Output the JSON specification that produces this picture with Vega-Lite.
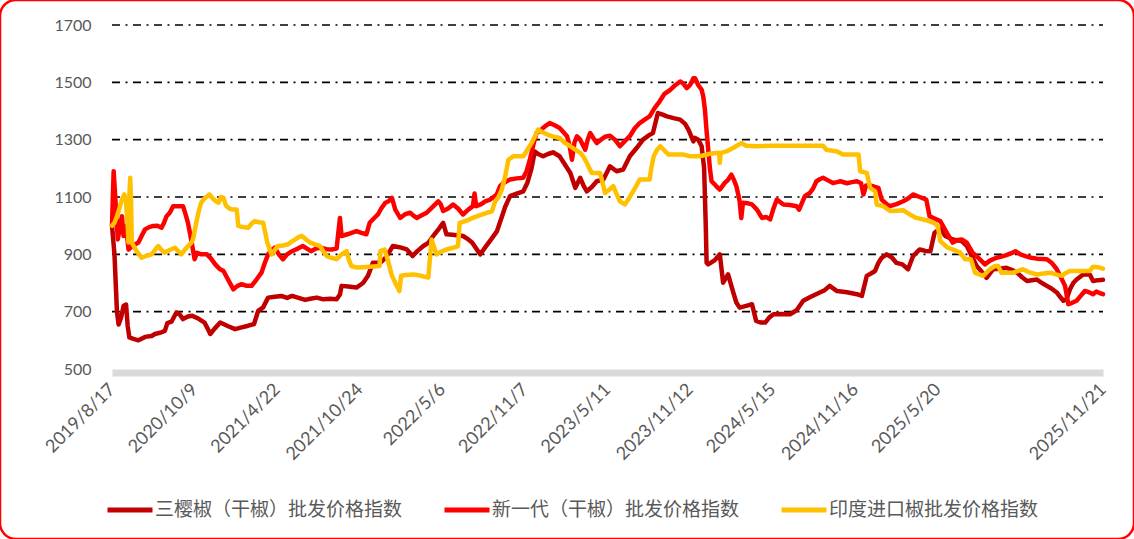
{
  "$schema": "https://vega.github.io/schema/vega-lite/v6.json",
  "width": 1134,
  "height": 539,
  "padding": 0,
  "autosize": {"type": "none"},
  "background": "#ffffff",
  "config": {
    "view": {"stroke": "#FF0000", "strokeWidth": 2.5, "cornerRadius": 16, "fill": "#ffffff"},
    "font": "Lato"
  },
  "datasets": {
    "grid": [{"g": 700}, {"g": 900}, {"g": 1100}, {"g": 1300}, {"g": 1500}, {"g": 1700}],
    "a": [{"i":0,"v":1000},{"i":3,"v":900},{"i":6,"v":700},{"i":8,"v":655},{"i":11,"v":680},{"i":14,"v":720},{"i":17,"v":725},{"i":19,"v":650},{"i":21,"v":610},{"i":26,"v":605},{"i":32,"v":600},{"i":40,"v":612},{"i":48,"v":615},{"i":52,"v":622},{"i":60,"v":628},{"i":64,"v":633},{"i":67,"v":660},{"i":72,"v":665},{"i":78,"v":697},{"i":82,"v":690},{"i":86,"v":674},{"i":92,"v":683},{"i":97,"v":686},{"i":105,"v":675},{"i":112,"v":662},{"i":116,"v":640},{"i":119,"v":622},{"i":124,"v":640},{"i":131,"v":662},{"i":140,"v":650},{"i":149,"v":639},{"i":157,"v":645},{"i":165,"v":651},{"i":172,"v":657},{"i":177,"v":703},{"i":183,"v":715},{"i":189,"v":749},{"i":197,"v":752},{"i":205,"v":755},{"i":212,"v":748},{"i":218,"v":755},{"i":226,"v":748},{"i":234,"v":741},{"i":240,"v":745},{"i":248,"v":749},{"i":256,"v":743},{"i":264,"v":745},{"i":272,"v":743},{"i":276,"v":760},{"i":278,"v":790},{"i":286,"v":788},{"i":296,"v":784},{"i":304,"v":800},{"i":310,"v":825},{"i":316,"v":871},{"i":325,"v":871},{"i":332,"v":890},{"i":340,"v":929},{"i":348,"v":925},{"i":357,"v":917},{"i":364,"v":894},{"i":370,"v":912},{"i":377,"v":929},{"i":383,"v":940},{"i":389,"v":964},{"i":396,"v":990},{"i":401,"v":1010},{"i":405,"v":970},{"i":412,"v":968},{"i":420,"v":966},{"i":425,"v":964},{"i":430,"v":955},{"i":436,"v":941},{"i":441,"v":920},{"i":446,"v":900},{"i":452,"v":925},{"i":458,"v":948},{"i":466,"v":980},{"i":472,"v":1030},{"i":476,"v":1065},{"i":482,"v":1103},{"i":490,"v":1112},{"i":498,"v":1120},{"i":503,"v":1150},{"i":508,"v":1200},{"i":512,"v":1259},{"i":516,"v":1250},{"i":522,"v":1242},{"i":528,"v":1250},{"i":534,"v":1256},{"i":542,"v":1242},{"i":548,"v":1215},{"i":555,"v":1184},{"i":561,"v":1132},{"i":564,"v":1150},{"i":567,"v":1167},{"i":571,"v":1140},{"i":575,"v":1120},{"i":581,"v":1135},{"i":587,"v":1155},{"i":595,"v":1161},{"i":603,"v":1207},{"i":611,"v":1190},{"i":619,"v":1196},{"i":627,"v":1242},{"i":635,"v":1270},{"i":643,"v":1300},{"i":650,"v":1315},{"i":655,"v":1323},{"i":661,"v":1393},{"i":666,"v":1388},{"i":672,"v":1381},{"i":680,"v":1375},{"i":688,"v":1370},{"i":694,"v":1355},{"i":698,"v":1335},{"i":704,"v":1294},{"i":706,"v":1306},{"i":710,"v":1300},{"i":714,"v":1277},{"i":717,"v":1200},{"i":719,"v":1000},{"i":720,"v":871},{"i":722,"v":865},{"i":730,"v":880},{"i":736,"v":900},{"i":740,"v":801},{"i":746,"v":830},{"i":750,"v":790},{"i":753,"v":760},{"i":756,"v":732},{"i":760,"v":714},{"i":768,"v":720},{"i":775,"v":726},{"i":780,"v":668},{"i":786,"v":662},{"i":791,"v":662},{"i":796,"v":680},{"i":801,"v":691},{"i":810,"v":692},{"i":821,"v":691},{"i":829,"v":705},{"i":837,"v":738},{"i":845,"v":750},{"i":857,"v":767},{"i":863,"v":775},{"i":869,"v":790},{"i":878,"v":772},{"i":890,"v":768},{"i":902,"v":761},{"i":908,"v":755},{"i":914,"v":825},{"i":920,"v":835},{"i":924,"v":842},{"i":928,"v":870},{"i":932,"v":888},{"i":938,"v":900},{"i":944,"v":890},{"i":950,"v":870},{"i":957,"v":865},{"i":964,"v":848},{"i":970,"v":894},{"i":978,"v":917},{"i":985,"v":912},{"i":991,"v":911},{"i":996,"v":975},{"i":1003,"v":990},{"i":1009,"v":964},{"i":1018,"v":952},{"i":1029,"v":946},{"i":1035,"v":930},{"i":1039,"v":906},{"i":1047,"v":859},{"i":1053,"v":840},{"i":1059,"v":818},{"i":1067,"v":848},{"i":1075,"v":850},{"i":1083,"v":853},{"i":1090,"v":845},{"i":1096,"v":836},{"i":1102,"v":820},{"i":1108,"v":807},{"i":1120,"v":812},{"i":1126,"v":800},{"i":1132,"v":790},{"i":1138,"v":780},{"i":1144,"v":767},{"i":1148,"v":752},{"i":1152,"v":738},{"i":1156,"v":745},{"i":1160,"v":778},{"i":1164,"v":800},{"i":1168,"v":812},{"i":1176,"v":830},{"i":1184,"v":830},{"i":1188,"v":807},{"i":1194,"v":810},{"i":1200,"v":811}],
    "b": [{"i":0,"v":1000},{"i":2,"v":1190},{"i":5,"v":1050},{"i":7,"v":952},{"i":10,"v":1000},{"i":12,"v":1033},{"i":14,"v":964},{"i":17,"v":1000},{"i":20,"v":917},{"i":25,"v":930},{"i":32,"v":941},{"i":36,"v":965},{"i":40,"v":987},{"i":45,"v":995},{"i":50,"v":999},{"i":55,"v":1000},{"i":60,"v":993},{"i":63,"v":1010},{"i":66,"v":1033},{"i":70,"v":1045},{"i":74,"v":1068},{"i":80,"v":1068},{"i":86,"v":1068},{"i":89,"v":1040},{"i":92,"v":1010},{"i":96,"v":950},{"i":100,"v":883},{"i":103,"v":905},{"i":108,"v":900},{"i":115,"v":900},{"i":120,"v":885},{"i":125,"v":865},{"i":130,"v":850},{"i":135,"v":842},{"i":140,"v":815},{"i":147,"v":778},{"i":152,"v":790},{"i":157,"v":796},{"i":163,"v":790},{"i":169,"v":790},{"i":175,"v":812},{"i":181,"v":836},{"i":185,"v":870},{"i":189,"v":900},{"i":193,"v":915},{"i":197,"v":923},{"i":202,"v":900},{"i":207,"v":883},{"i":212,"v":900},{"i":218,"v":911},{"i":225,"v":920},{"i":231,"v":929},{"i":236,"v":920},{"i":241,"v":911},{"i":247,"v":920},{"i":252,"v":923},{"i":260,"v":918},{"i":266,"v":917},{"i":272,"v":920},{"i":276,"v":1027},{"i":278,"v":964},{"i":285,"v":970},{"i":290,"v":975},{"i":296,"v":981},{"i":302,"v":975},{"i":308,"v":970},{"i":312,"v":1010},{"i":317,"v":1025},{"i":322,"v":1039},{"i":326,"v":1060},{"i":331,"v":1080},{"i":335,"v":1085},{"i":339,"v":1097},{"i":343,"v":1056},{"i":349,"v":1027},{"i":355,"v":1040},{"i":361,"v":1045},{"i":365,"v":1035},{"i":369,"v":1027},{"i":375,"v":1036},{"i":381,"v":1045},{"i":388,"v":1065},{"i":395,"v":1085},{"i":398,"v":1075},{"i":401,"v":1051},{"i":407,"v":1060},{"i":413,"v":1074},{"i":419,"v":1060},{"i":425,"v":1039},{"i":431,"v":1055},{"i":437,"v":1068},{"i":439,"v":1112},{"i":441,"v":1068},{"i":447,"v":1075},{"i":452,"v":1085},{"i":458,"v":1091},{"i":466,"v":1109},{"i":470,"v":1138},{"i":474,"v":1149},{"i":482,"v":1161},{"i":490,"v":1165},{"i":498,"v":1167},{"i":502,"v":1190},{"i":506,"v":1230},{"i":510,"v":1280},{"i":514,"v":1323},{"i":518,"v":1330},{"i":522,"v":1341},{"i":526,"v":1350},{"i":530,"v":1358},{"i":536,"v":1350},{"i":542,"v":1341},{"i":547,"v":1325},{"i":551,"v":1312},{"i":554,"v":1280},{"i":557,"v":1230},{"i":560,"v":1290},{"i":563,"v":1312},{"i":567,"v":1300},{"i":573,"v":1265},{"i":576,"v":1300},{"i":579,"v":1323},{"i":583,"v":1305},{"i":587,"v":1288},{"i":592,"v":1300},{"i":597,"v":1310},{"i":603,"v":1314},{"i":609,"v":1300},{"i":615,"v":1277},{"i":621,"v":1295},{"i":627,"v":1312},{"i":633,"v":1340},{"i":639,"v":1358},{"i":645,"v":1370},{"i":651,"v":1381},{"i":657,"v":1410},{"i":663,"v":1433},{"i":669,"v":1460},{"i":676,"v":1474},{"i":682,"v":1490},{"i":688,"v":1503},{"i":692,"v":1495},{"i":696,"v":1480},{"i":700,"v":1491},{"i":704,"v":1514},{"i":706,"v":1514},{"i":710,"v":1490},{"i":714,"v":1474},{"i":716,"v":1450},{"i":718,"v":1404},{"i":720,"v":1330},{"i":722,"v":1265},{"i":724,"v":1200},{"i":726,"v":1155},{"i":731,"v":1140},{"i":736,"v":1126},{"i":742,"v":1149},{"i":746,"v":1160},{"i":750,"v":1178},{"i":753,"v":1160},{"i":756,"v":1138},{"i":759,"v":1100},{"i":760,"v":1085},{"i":762,"v":1027},{"i":764,"v":1080},{"i":770,"v":1078},{"i":775,"v":1074},{"i":781,"v":1056},{"i":787,"v":1027},{"i":792,"v":1030},{"i":797,"v":1022},{"i":801,"v":1060},{"i":805,"v":1091},{"i":813,"v":1074},{"i":821,"v":1072},{"i":829,"v":1068},{"i":832,"v":1056},{"i":839,"v":1103},{"i":845,"v":1114},{"i":849,"v":1130},{"i":853,"v":1155},{"i":857,"v":1162},{"i":861,"v":1167},{"i":867,"v":1158},{"i":873,"v":1149},{"i":878,"v":1152},{"i":882,"v":1155},{"i":890,"v":1148},{"i":896,"v":1152},{"i":902,"v":1155},{"i":907,"v":1148},{"i":910,"v":1109},{"i":913,"v":1140},{"i":918,"v":1140},{"i":924,"v":1135},{"i":928,"v":1132},{"i":932,"v":1091},{"i":938,"v":1075},{"i":942,"v":1068},{"i":950,"v":1075},{"i":958,"v":1085},{"i":964,"v":1095},{"i":970,"v":1109},{"i":978,"v":1100},{"i":986,"v":1091},{"i":990,"v":1033},{"i":996,"v":1025},{"i":1003,"v":1016},{"i":1008,"v":990},{"i":1012,"v":970},{"i":1018,"v":941},{"i":1024,"v":950},{"i":1029,"v":952},{"i":1035,"v":941},{"i":1042,"v":906},{"i":1050,"v":885},{"i":1057,"v":865},{"i":1063,"v":878},{"i":1071,"v":888},{"i":1077,"v":892},{"i":1083,"v":897},{"i":1090,"v":905},{"i":1094,"v":911},{"i":1100,"v":900},{"i":1106,"v":894},{"i":1113,"v":888},{"i":1120,"v":885},{"i":1126,"v":884},{"i":1132,"v":883},{"i":1138,"v":870},{"i":1144,"v":848},{"i":1149,"v":820},{"i":1154,"v":790},{"i":1158,"v":726},{"i":1162,"v":730},{"i":1168,"v":738},{"i":1173,"v":755},{"i":1178,"v":772},{"i":1183,"v":768},{"i":1188,"v":761},{"i":1192,"v":770},{"i":1196,"v":765},{"i":1200,"v":761}],
    "c": [{"i":0,"v":1000},{"i":3,"v":1010},{"i":6,"v":1033},{"i":9,"v":1060},{"i":12,"v":1091},{"i":15,"v":1109},{"i":17,"v":1080},{"i":19,"v":1000},{"i":20,"v":941},{"i":21,"v":1100},{"i":22,"v":1167},{"i":23,"v":1100},{"i":24,"v":941},{"i":26,"v":930},{"i":30,"v":910},{"i":36,"v":888},{"i":42,"v":895},{"i":48,"v":900},{"i":52,"v":915},{"i":56,"v":929},{"i":60,"v":915},{"i":64,"v":906},{"i":70,"v":915},{"i":76,"v":923},{"i":80,"v":912},{"i":84,"v":900},{"i":88,"v":915},{"i":92,"v":929},{"i":96,"v":940},{"i":98,"v":952},{"i":100,"v":980},{"i":102,"v":1010},{"i":105,"v":1050},{"i":108,"v":1080},{"i":112,"v":1095},{"i":118,"v":1109},{"i":122,"v":1095},{"i":126,"v":1085},{"i":129,"v":1080},{"i":132,"v":1100},{"i":135,"v":1097},{"i":138,"v":1070},{"i":142,"v":1060},{"i":146,"v":1056},{"i":151,"v":1056},{"i":153,"v":999},{"i":158,"v":995},{"i":165,"v":993},{"i":170,"v":1010},{"i":173,"v":1016},{"i":178,"v":1012},{"i":183,"v":1010},{"i":186,"v":970},{"i":188,"v":941},{"i":193,"v":900},{"i":197,"v":915},{"i":201,"v":929},{"i":207,"v":931},{"i":213,"v":935},{"i":218,"v":945},{"i":222,"v":952},{"i":226,"v":960},{"i":230,"v":964},{"i":235,"v":952},{"i":240,"v":941},{"i":246,"v":935},{"i":252,"v":929},{"i":256,"v":910},{"i":260,"v":894},{"i":266,"v":888},{"i":272,"v":883},{"i":278,"v":900},{"i":284,"v":911},{"i":287,"v":880},{"i":290,"v":859},{"i":295,"v":855},{"i":300,"v":854},{"i":312,"v":857},{"i":324,"v":859},{"i":325,"v":911},{"i":330,"v":917},{"i":334,"v":880},{"i":339,"v":825},{"i":344,"v":795},{"i":348,"v":772},{"i":350,"v":825},{"i":356,"v":828},{"i":365,"v":830},{"i":374,"v":825},{"i":383,"v":819},{"i":387,"v":952},{"i":390,"v":925},{"i":393,"v":900},{"i":399,"v":910},{"i":405,"v":917},{"i":412,"v":922},{"i":419,"v":929},{"i":421,"v":1010},{"i":430,"v":1018},{"i":437,"v":1027},{"i":445,"v":1036},{"i":454,"v":1045},{"i":460,"v":1050},{"i":464,"v":1085},{"i":468,"v":1100},{"i":472,"v":1126},{"i":476,"v":1170},{"i":480,"v":1230},{"i":486,"v":1242},{"i":492,"v":1242},{"i":498,"v":1242},{"i":503,"v":1265},{"i":508,"v":1288},{"i":512,"v":1310},{"i":516,"v":1335},{"i":522,"v":1325},{"i":528,"v":1317},{"i":535,"v":1310},{"i":542,"v":1306},{"i":548,"v":1290},{"i":555,"v":1277},{"i":561,"v":1265},{"i":567,"v":1254},{"i":571,"v":1240},{"i":575,"v":1219},{"i":578,"v":1200},{"i":581,"v":1184},{"i":586,"v":1184},{"i":591,"v":1184},{"i":594,"v":1150},{"i":597,"v":1114},{"i":602,"v":1125},{"i":607,"v":1138},{"i":611,"v":1110},{"i":615,"v":1085},{"i":621,"v":1074},{"i":626,"v":1095},{"i":631,"v":1120},{"i":635,"v":1140},{"i":639,"v":1161},{"i":645,"v":1161},{"i":651,"v":1161},{"i":653,"v":1200},{"i":656,"v":1242},{"i":660,"v":1265},{"i":664,"v":1277},{"i":669,"v":1262},{"i":674,"v":1248},{"i":682,"v":1248},{"i":692,"v":1248},{"i":700,"v":1242},{"i":712,"v":1242},{"i":724,"v":1251},{"i":735,"v":1254},{"i":736,"v":1219},{"i":737,"v":1254},{"i":744,"v":1259},{"i":752,"v":1271},{"i":762,"v":1288},{"i":768,"v":1279},{"i":780,"v":1277},{"i":800,"v":1279},{"i":821,"v":1279},{"i":840,"v":1279},{"i":861,"v":1279},{"i":865,"v":1265},{"i":878,"v":1259},{"i":885,"v":1248},{"i":895,"v":1248},{"i":904,"v":1248},{"i":906,"v":1190},{"i":914,"v":1184},{"i":918,"v":1132},{"i":924,"v":1120},{"i":926,"v":1074},{"i":934,"v":1068},{"i":942,"v":1051},{"i":950,"v":1052},{"i":958,"v":1054},{"i":966,"v":1039},{"i":974,"v":1027},{"i":986,"v":1019},{"i":995,"v":1010},{"i":1000,"v":999},{"i":1003,"v":946},{"i":1012,"v":923},{"i":1020,"v":915},{"i":1027,"v":906},{"i":1033,"v":883},{"i":1040,"v":883},{"i":1045,"v":836},{"i":1050,"v":830},{"i":1055,"v":825},{"i":1063,"v":848},{"i":1069,"v":859},{"i":1073,"v":859},{"i":1077,"v":836},{"i":1091,"v":836},{"i":1103,"v":848},{"i":1110,"v":838},{"i":1120,"v":830},{"i":1128,"v":833},{"i":1136,"v":836},{"i":1143,"v":830},{"i":1150,"v":825},{"i":1155,"v":835},{"i":1160,"v":842},{"i":1172,"v":842},{"i":1184,"v":842},{"i":1188,"v":857},{"i":1194,"v":855},{"i":1200,"v":850}]
  },
  "layer": [
    {
      "data": {"name": "grid"},
      "mark": {"type": "rule", "stroke": "#000000", "strokeWidth": 1.6, "strokeDash": [8, 5.5, 2, 5.5]},
      "encoding": {
        "x": {"datum": 0, "type": "quantitative", "scale": {"domain": [0, 1200], "range": [112, 1103], "nice": false, "zero": false}},
        "x2": {"datum": 1200},
        "y": {"field": "g", "type": "quantitative", "scale": {"domain": [500, 1700], "range": [369, 25], "nice": false, "zero": false}}
      }
    },
    {
      "data": {"name": "a"},
      "mark": {"type": "line", "strokeWidth": 4.5, "strokeJoin": "round", "strokeCap": "round"},
      "encoding": {
        "x": {"field": "i", "type": "quantitative", "scale": {"domain": [0, 1200], "range": [112, 1103], "nice": false, "zero": false},
          "axis": {"title": null, "orient": "bottom", "offset": -166.5, "values": [0, 100, 200, 300, 400, 500, 600, 700, 800, 900, 1000, 1200],
            "labelExpr": "['2019/8/17','2020/10/9','2021/4/22','2021/10/24','2022/5/6','2022/11/7','2023/5/11','2023/11/12','2024/5/15','2024/11/16','2025/5/20','','2025/11/21'][round(datum.value/100)]",
            "domain": true, "domainColor": "#D9D9D9", "domainWidth": 7, "ticks": false, "tickSize": 0, "grid": false,
            "labelAngle": -45, "labelAlign": "right", "labelBaseline": "middle", "labelPadding": 14, "labelFont": "Lato", "labelFontSize": 18, "labelColor": "#595959", "labelOverlap": false, "labelFlush": false, "labelBound": false}},
        "y": {"field": "v", "type": "quantitative", "scale": {"domain": [500, 1700], "range": [369, 25], "nice": false, "zero": false},
          "axis": {"title": null, "orient": "left", "offset": -95, "values": [500, 700, 900, 1100, 1300, 1500, 1700], "format": "d", "domain": false, "ticks": false, "tickSize": 0, "grid": false,
            "labelPadding": 4, "labelFont": "Lato", "labelFontSize": 16, "labelColor": "#595959", "labelOverlap": false, "labelFlush": false, "labelBound": false}},
        "color": {"datum": "三樱椒（干椒）批发价格指数", "type": "nominal",
          "scale": {"domain": ["三樱椒（干椒）批发价格指数", "新一代（干椒）批发价格指数", "印度进口椒批发价格指数"], "range": ["#C00000", "#FF0000", "#FFC000"]},
          "legend": {"title": null, "orient": "none", "legendX": 105, "legendY": 485, "direction": "horizontal", "symbolType": "stroke", "symbolSize": 2025, "symbolStrokeWidth": 5,
            "labelFont": "Noto Sans CJK SC", "labelFontSize": 19, "labelColor": "#595959", "labelLimit": 400, "labelOffset": 0, "columnPadding": 31}}
      }
    },
    {
      "data": {"name": "b"},
      "mark": {"type": "line", "strokeWidth": 4.5, "strokeJoin": "round", "strokeCap": "round"},
      "encoding": {
        "x": {"field": "i", "type": "quantitative"},
        "y": {"field": "v", "type": "quantitative"},
        "color": {"datum": "新一代（干椒）批发价格指数", "type": "nominal"}
      }
    },
    {
      "data": {"name": "c"},
      "mark": {"type": "line", "strokeWidth": 4.5, "strokeJoin": "round", "strokeCap": "round"},
      "encoding": {
        "x": {"field": "i", "type": "quantitative"},
        "y": {"field": "v", "type": "quantitative"},
        "color": {"datum": "印度进口椒批发价格指数", "type": "nominal"}
      }
    }
  ]
}
